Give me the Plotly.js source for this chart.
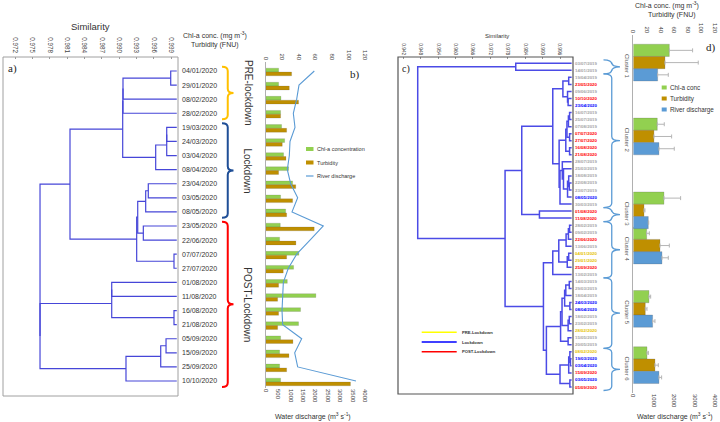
<!DOCTYPE html>
<html><head><meta charset="utf-8">
<script src="https://cdn.plot.ly/plotly-3.0.1.min.js"></script>
<style>html,body{margin:0;padding:0;background:#fff}#chart{width:720px;height:422px}</style>
</head><body><div id="chart"></div>
<script>
// ---------------- DATA ----------------
// Panel a/b: samples 2020 (leaf order of dendrogram a)
const dates2020 = ['04/01/2020','29/01/2020','08/02/2020','28/02/2020','19/03/2020','24/03/2020','03/04/2020','08/04/2020','23/04/2020','03/05/2020','08/05/2020','23/05/2020','22/06/2020','07/07/2020','27/07/2020','01/08/2020','11/08/2020','16/08/2020','21/08/2020','05/09/2020','15/09/2020','25/09/2020','10/10/2020'];
const chlConc = [15.6,15.6,18.4,18.0,19.2,22.9,21.6,27.7,32.5,18.0,24.1,17.6,16.8,40.1,33.7,26.1,60.6,42.1,39.7,18.0,16.8,16.8,18.0];
const turbidity = [31.3,28.5,39.7,18.0,25.3,20.0,24.5,15.6,36.3,32.5,25.3,58.6,36.5,25.3,21.2,15.6,14.4,15.6,14.4,32.9,28.1,25.3,102.4];
const riverDischarge = [1958,1341,1248,1113,1180,979,952,871,1006,1288,1060,2320,1784,1248,911,710,684,657,684,1450,1168,1288,3637];
// Dendrogram a: merges (child A, child B, similarity); node ids >= 23 are earlier merges
const aMergeA = [0,23,24,4,26,27,25,8,30,11,31,13,33,29,15,17,37,19,40,41,39,36];
const aMergeB = [1,2,3,5,6,7,28,9,10,12,32,14,34,35,16,18,38,20,21,22,42,43];
const aMergeSim = [0.99895,0.99069,0.99069,0.99826,0.99826,0.99635,0.99064,0.99507,0.99462,0.99421,0.99324,0.99952,0.99306,0.98152,0.98874,0.99952,0.98874,0.99814,0.99722,0.99121,0.97633,0.97633];
const simTicksA = [0.972,0.975,0.978,0.981,0.984,0.987,0.990,0.993,0.996,0.999];
const periods = ['PRE-lockdown','Lockdown','POST-Lockdown'];
const periodFirst = [0,4,11];
const periodLast = [3,10,22];

// Panel c: 2019 + 2020 samples (leaf order of dendrogram c)
const datesC = ['03/07/2019','14/01/2019','19/04/2019','23/05/2020','09/06/2019','10/10/2020','23/04/2020','16/07/2019','25/07/2019','07/08/2019','07/07/2020','27/07/2020','16/08/2020','21/08/2020','28/07/2019','25/03/2019','18/08/2019','22/08/2019','23/07/2019','08/05/2020','30/03/2019','01/08/2020','11/08/2020','28/02/2019','09/02/2019','22/06/2020','13/06/2019','04/01/2020','29/01/2020','25/09/2020','13/02/2019','14/03/2019','29/03/2019','18/04/2019','24/03/2020','08/04/2020','18/02/2019','23/02/2019','28/02/2020','15/05/2019','20/05/2019','08/02/2020','19/03/2020','03/04/2020','15/09/2020','03/05/2020','05/09/2020'];
const periodC = ['o','o','o','post','o','post','lock','o','o','o','post','post','post','post','o','o','o','o','o','lock','o','post','post','o','o','post','o','pre','pre','post','o','o','o','o','lock','lock','o','o','pre','o','o','pre','lock','lock','post','lock','post'];
const cMergeA = [0,2,5,4,48,7,52,10,53,12,55,17,16,59,15,14,62,57,51,21,65,23,68,69,27,71,70,73,31,75,34,76,36,79,78,39,81,42,41,85,45,86,83,74,67,47];
const cMergeB = [1,3,6,49,50,8,9,11,54,13,56,18,58,19,60,61,20,63,64,22,66,24,25,26,28,29,72,30,32,33,35,77,37,38,80,40,82,43,84,44,46,87,88,89,90,91];
const cMergeSim = [0.98075,0.9990,0.9988,0.9986,0.9970,0.9993,0.9989,0.9993,0.9984,0.9993,0.9980,0.9992,0.9990,0.9986,0.9972,0.9968,0.9960,0.9957,0.99351,0.98891,0.98282,0.9993,0.9989,0.9981,0.9990,0.9985,0.99558,0.99351,0.9992,0.9980,0.9994,0.9976,0.9992,0.9988,0.9967,0.9988,0.9962,0.9996,0.9994,0.9990,0.9994,0.9960,0.99131,0.99029,0.97707,0.94697];
const simTicksC = [0.942,0.948,0.954,0.960,0.966,0.972,0.978,0.984,0.990,0.996];

// Panel d: cluster means and SD
const clusterNames = ['Cluster 1','Cluster 2','Cluster 3','Cluster 4','Cluster 5','Cluster 6'];
const clusterFirst = [0,2,21,23,31,41];
const clusterLast = [1,20,22,30,40,46];
const chlMean = [52.9,35.2,45.0,19.6,23.0,20.1];
const chlSD = [34.2,10.3,24.5,3.9,2.5,2.0];
const turbMean = [46.5,30.3,15.7,39.2,17.6,31.8];
const turbSD = [48.9,26.0,1.4,13.7,2.5,4.9];
const dischMean = [1191,1256,734,1403,946,1256];
const dischSD = [522,750,20,310,114,131];

const topTicks = [0,20,40,60,80,100,120];
const dischTicksB = [0,500,1000,1500,2000,2500,3000,3500,4000];
const dischTicksD = [0,1000,2000,3000,4000];

// ---------------- LAYOUT HELPERS ----------------
const W = 720, H = 422;
const px = x => x / W, py = y => 1 - y / H;
const FONT = 'Liberation Sans, Arial, sans-serif';
const SERIF = 'Liberation Serif, Times New Roman, serif';

function dendro(n, A, B, S) {
  const pos = [], h = [], xs = [], ys = [];
  for (let i = 0; i < n; i++) { pos[i] = i; h[i] = 1; }
  for (let k = 0; k < A.length; k++) {
    const a = A[k], b = B[k], s = S[k];
    xs.push(h[a], s, s, h[b], null);
    ys.push(pos[a], pos[a], pos[b], pos[b], null);
    pos[n + k] = (pos[a] + pos[b]) / 2; h[n + k] = s;
  }
  return {xs, ys};
}
function brace(x0, x1, yt, yb, ym, r) {
  const xm = (x0 + x1) / 2;
  return `M${x0},${yt} Q${xm},${yt} ${xm},${yt + r} L${xm},${ym - r} Q${xm},${ym} ${x1},${ym} Q${xm},${ym} ${xm},${ym + r} L${xm},${yb - r} Q${xm},${yb} ${x0},${yb}`;
}

// pixel mapping of leaf rows
const aY0 = 71, aDY = 14.091;      // panel a / b rows
const cY0 = 63.3, cDY = 7.0365;    // panel c / d rows
const rowA = y => (y - aY0) / aDY, rowC = y => (y - cY0) / cDY;

// ---------------- TRACES ----------------
const dA = dendro(dates2020.length, aMergeA, aMergeB, aMergeSim);
const dC = dendro(datesC.length, cMergeA, cMergeB, cMergeSim);
const idxA = dates2020.map((_, i) => i);
const traces = [];
traces.push({type:'scatter', mode:'lines', x:dA.xs, y:dA.ys, xaxis:'x', yaxis:'y', line:{color:'#4646d8', width:1.2}, hoverinfo:'skip'});
traces.push({type:'bar', orientation:'h', x:chlConc, y:idxA, xaxis:'x2', yaxis:'y2', width:0.27, offset:-0.2, marker:{color:'#92d050', line:{color:'rgba(80,80,80,0.35)', width:0.5}}, name:'Chl-a concentration'});
traces.push({type:'bar', orientation:'h', x:turbidity, y:idxA, xaxis:'x2', yaxis:'y2', width:0.27, offset:0.07, marker:{color:'#bf8f00', line:{color:'rgba(80,80,80,0.35)', width:0.5}}, name:'Turbidity'});
traces.push({type:'scatter', mode:'lines', x:riverDischarge, y:idxA, xaxis:'x3', yaxis:'y2', line:{color:'#5b9bd5', width:1.1}, name:'River discharge'});
traces.push({type:'scatter', mode:'lines', x:dC.xs, y:dC.ys, xaxis:'x4', yaxis:'y4', line:{color:'#4b4be6', width:1.5}, hoverinfo:'skip'});

const cCenter = clusterFirst.map((f, i) => (f + clusterLast[i]) / 2);
const bw = 1.74;
const barY = cCenter.map(c => c - 0.6);
const errStyle = {color:'#b5b5b5', thickness:1, width:2};
traces.push({type:'bar', orientation:'h', x:chlMean, y:barY, xaxis:'x5', yaxis:'y5', width:bw, offset:-1.5*bw,
  marker:{color:'#92d050', line:{color:'rgba(90,90,90,0.4)', width:0.6}},
  error_x:Object.assign({type:'data', symmetric:false, array:chlSD, arrayminus:chlSD.map(() => 0)}, errStyle), name:'Chl-a conc'});
traces.push({type:'bar', orientation:'h', x:turbMean, y:barY, xaxis:'x5', yaxis:'y5', width:bw, offset:-0.5*bw,
  marker:{color:'#bf8f00', line:{color:'rgba(90,90,90,0.4)', width:0.6}},
  error_x:Object.assign({type:'data', symmetric:false, array:turbSD, arrayminus:turbSD.map(() => 0)}, errStyle), name:'Turbidity'});
traces.push({type:'bar', orientation:'h', x:dischMean, y:barY, xaxis:'x6', yaxis:'y5', width:bw, offset:0.5*bw,
  marker:{color:'#5b9bd5', line:{color:'rgba(90,90,90,0.4)', width:0.6}},
  error_x:Object.assign({type:'data', symmetric:false, array:dischSD, arrayminus:dischSD.map(() => 0)}, errStyle), name:'River discharge'});

// ---------------- AXES ----------------
const noGrid = {showgrid:false, zeroline:false, fixedrange:true};
const colC = {o:'#a6a6a6', post:'#ff0000', lock:'#0000ff', pre:'#e6c300'};
const layout = {
  width:W, height:H, margin:{l:0, r:0, t:0, b:0}, showlegend:false,
  paper_bgcolor:'#fff', plot_bgcolor:'rgba(0,0,0,0)', barmode:'overlay',
  font:{family:FONT, color:'#333'},
  // panel a
  xaxis:Object.assign({domain:[px(3), px(178)], anchor:'y', side:'top',
    range:[0.972 - 12 * 0.027 / 156, 0.999 + 7 * 0.027 / 156],
    tickvals:simTicksA, ticktext:simTicksA.map(v => v.toFixed(3)), tickangle:90,
    tickfont:{size:6.3, color:'#444'}, ticks:'inside', ticklen:2, tickcolor:'#999', showline:false, ticklabelstandoff:2}, noGrid),
  yaxis:Object.assign({domain:[py(396), py(57)], anchor:'x', side:'right',
    range:[rowA(396), rowA(57)], tickvals:idxA, ticktext:dates2020,
    tickfont:{size:7, color:'#333'}, ticks:'', showline:false, ticklabelstandoff:3}, noGrid),
  // panel b
  xaxis2:Object.assign({domain:[px(265.7), px(365)], anchor:'y2', side:'top', range:[0,120],
    tickvals:topTicks, tickangle:90, tickfont:{size:6, color:'#444'}, ticks:'', showline:false}, noGrid),
  xaxis3:Object.assign({domain:[px(265.7), px(365)], anchor:'y2', side:'bottom', overlaying:'x2', range:[0,4000],
    tickvals:dischTicksB, tickangle:90, tickfont:{size:6, color:'#444'}, ticks:'', showline:false}, noGrid),
  yaxis2:Object.assign({domain:[py(388), py(62)], anchor:'x2', range:[rowA(388), rowA(62)],
    showticklabels:false, ticks:'', showline:true, linecolor:'#b0b0b0', linewidth:1}, noGrid),
  // panel c
  xaxis4:Object.assign({domain:[px(398), px(573)], anchor:'y4', side:'top',
    range:[0.942 - 5.3 * 0.006 / 17.41, 0.996 + 13 * 0.006 / 17.41],
    tickvals:simTicksC, ticktext:simTicksC.map(v => v.toFixed(3)), tickangle:90,
    tickfont:{size:4.8, color:'#444'}, ticks:'inside', ticklen:2, tickcolor:'#999', showline:false}, noGrid),
  yaxis4:Object.assign({domain:[py(394), py(57)], anchor:'x4', side:'right',
    range:[rowC(394), rowC(57)], tickvals:datesC.map((_, i) => i),
    ticktext:datesC.map((d, i) => `<b><span style="color:${colC[periodC[i]]}">${d}</span></b>`),
    tickfont:{size:4.4}, ticks:'', showline:false, ticklabelstandoff:1}, noGrid),
  // panel d
  xaxis5:Object.assign({domain:[px(633.3), px(715)], anchor:'y5', side:'top', range:[0,120],
    tickvals:topTicks, tickangle:90, tickfont:{size:6, color:'#444'}, ticks:'', showline:false}, noGrid),
  xaxis6:Object.assign({domain:[px(633.3), px(715)], anchor:'y5', side:'bottom', overlaying:'x5', range:[0,4000],
    tickvals:dischTicksD, tickangle:90, tickfont:{size:6, color:'#444'}, ticks:'', showline:false}, noGrid),
  yaxis5:Object.assign({domain:[py(393), py(35)], anchor:'x5', range:[rowC(393), rowC(35)],
    tickvals:cCenter, ticktext:clusterNames, tickangle:90, tickfont:{size:6, color:'#555'},
    ticks:'', showline:true, linecolor:'#b0b0b0', linewidth:1, ticklabelstandoff:0}, noGrid),
  shapes:[], annotations:[]
};

// boxes
layout.shapes.push({type:'rect', xref:'paper', yref:'paper', x0:px(3), x1:px(178), y0:py(396), y1:py(57), line:{color:'#a0a0a0', width:1}});
layout.shapes.push({type:'rect', xref:'paper', yref:'paper', x0:px(398), x1:px(573), y0:py(394), y1:py(57), line:{color:'#555', width:1.2}});

// period braces (panel a)
const periodCol = ['#ffc000','#1f4e96','#ff0000'];
periods.forEach((p, i) => {
  const yt = periodFirst[i] - 0.3, yb = periodLast[i] + 0.42, ym = (yt + yb) / 2;
  layout.shapes.push({type:'path', xref:'paper', yref:'y', line:{color:periodCol[i], width:2},
    path:brace(px(222), px(233.5), yt, yb, ym, 0.3)});
  layout.annotations.push({xref:'paper', yref:'y', x:px(248), y:ym, text:p, textangle:90, showarrow:false,
    font:{size:10, color:'#333'}, xanchor:'center', yanchor:'middle'});
});
// cluster braces (panel c)
clusterNames.forEach((c, i) => {
  const yt = clusterFirst[i] - 0.5, yb = clusterLast[i] + 0.5, ym = cCenter[i];
  layout.shapes.push({type:'path', xref:'paper', yref:'y4', line:{color:'#5b9bd5', width:1.3},
    path:brace(px(603.5), px(620), yt, yb, ym, 0.6)});
});

// text annotations
function ann(x, y, text, size, extra) {
  layout.annotations.push(Object.assign({xref:'paper', yref:'paper', x:px(x), y:py(y), text, showarrow:false,
    font:{size, color:'#333'}, xanchor:'center', yanchor:'middle'}, extra || {}));
}
ann(90, 27, 'Similarity', 9.5);
ann(12, 69, 'a)', 11, {font:{size:11, family:SERIF, color:'#222'}});
ann(215, 35, 'Chl-a conc. (mg m<sup>-3</sup>)', 7);
ann(215, 44.5, 'Turbidity (FNU)', 7);
ann(355, 74, 'b)', 11, {font:{size:11, family:SERIF, color:'#222'}});
ann(313, 416.5, 'Water discharge (m<sup>3</sup> s<sup>-1</sup>)', 7);
ann(497, 36, 'Similarity', 6);
ann(406, 69, 'c)', 10, {font:{size:10, family:SERIF, color:'#222'}});
ann(667, 5.5, 'Chl-a conc. (mg m<sup>-3</sup>)', 7);
ann(672, 15, 'Turbidity (FNU)', 7);
ann(711, 48, 'd)', 11, {font:{size:11, family:SERIF, color:'#222'}});
ann(675, 416.5, 'Water discharge (m<sup>3</sup> s<sup>-1</sup>)', 7);

// legend b
const legB = [['Chl-a concentration','#92d050','bar'],['Turbidity','#bf8f00','bar'],['River discharge','#5b9bd5','line']];
legB.forEach((l, i) => {
  const y = 149 + i * 13.5;
  if (l[2] === 'bar') layout.shapes.push({type:'rect', xref:'paper', yref:'paper', x0:px(306), x1:px(313.5), y0:py(y + 2), y1:py(y - 2), fillcolor:l[1], line:{width:0}});
  else layout.shapes.push({type:'line', xref:'paper', yref:'paper', x0:px(306), x1:px(313.5), y0:py(y), y1:py(y), line:{color:l[1], width:1.2}});
  ann(314.5, y, l[0], 5.5, {xanchor:'left'});
});
// legend c
const legC = [['PRE-Lockdown','#ffff00'],['Lockdown','#0000ff'],['POST-Lockdown','#ff0000']];
legC.forEach((l, i) => {
  const y = 332.3 + i * 9.7;
  layout.shapes.push({type:'line', xref:'paper', yref:'paper', x0:px(421.7), x1:px(456.7), y0:py(y), y1:py(y), line:{color:l[1], width:1.4}});
  ann(460.5, y, '<b>' + l[0] + '</b>', 4.2, {xanchor:'left'});
});
// legend d
const legD = [['Chl-a conc','#92d050'],['Turbidity','#bf8f00'],['River discharge','#5b9bd5']];
legD.forEach((l, i) => {
  const y = 87.5 + i * 11;
  layout.shapes.push({type:'rect', xref:'paper', yref:'paper', x0:px(661.7), x1:px(666.7), y0:py(y + 2), y1:py(y - 2), fillcolor:l[1], line:{width:0}});
  ann(668, y, l[0], 6.3, {xanchor:'left'});
});

Plotly.newPlot('chart', traces, layout, {staticPlot:true, displayModeBar:false});
</script></body></html>
